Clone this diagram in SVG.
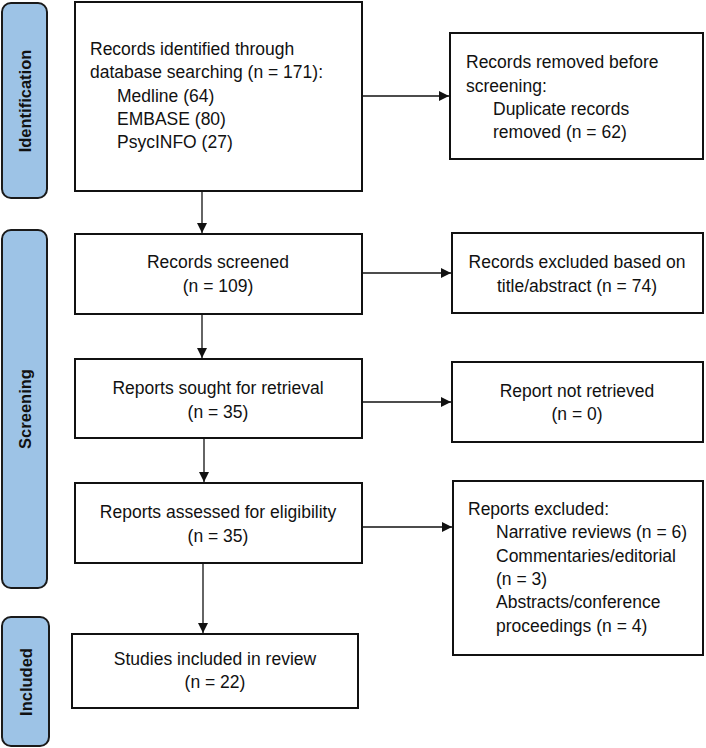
<svg xmlns="http://www.w3.org/2000/svg" width="706" height="748" viewBox="0 0 706 748">
<style>
.box{fill:#fff;stroke:#111;stroke-width:2}
.side{fill:#9dc3e6;stroke:#1a1a1a;stroke-width:2}
.t{font-family:"Liberation Sans",Arial,sans-serif;font-size:17.5px;fill:#111}
.c{text-anchor:middle}
.lab{font-family:"Liberation Sans",Arial,sans-serif;font-size:16.5px;font-weight:bold;fill:#111;text-anchor:middle}
.ln{stroke:#111;stroke-width:1.3;fill:none;marker-end:url(#ah)}
</style>
<defs>
<marker id="ah" viewBox="0 0 10 10" refX="10" refY="5" markerWidth="11" markerHeight="10" markerUnits="userSpaceOnUse" orient="auto">
<path d="M0,0 L10,5 L0,10 Z" fill="#111"/>
</marker>
</defs>
<g id="side-identification"><rect class="side" x="2" y="3" width="45" height="195" rx="9"/><text class="lab" transform="translate(30.5,101) rotate(-90)">Identification</text></g>
<g id="side-screening"><rect class="side" x="2" y="230" width="45" height="358" rx="9"/><text class="lab" transform="translate(30.5,409) rotate(-90)">Screening</text></g>
<g id="side-included"><rect class="side" x="2" y="617" width="47" height="129" rx="9"/><text class="lab" transform="translate(31.5,682) rotate(-90)">Included</text></g>

<g id="identified"><rect class="box" x="75" y="2" width="287" height="189"/>
<text class="t" x="90" y="55">Records identified through</text>
<text class="t" x="90" y="78">database searching (n = 171):</text>
<text class="t" x="117" y="102">Medline (64)</text>
<text class="t" x="117" y="125">EMBASE (80)</text>
<text class="t" x="117" y="148">PsycINFO (27)</text></g>

<g id="removed"><rect class="box" x="450" y="33" width="253" height="126"/>
<text class="t" x="466" y="68">Records removed before</text>
<text class="t" x="466" y="92">screening:</text>
<text class="t" x="493" y="115">Duplicate records</text>
<text class="t" x="493" y="138">removed (n = 62)</text></g>

<g id="screened"><rect class="box" x="75" y="234" width="287" height="80"/>
<text class="t c" x="218" y="268">Records screened</text>
<text class="t c" x="218" y="292">(n = 109)</text></g>

<g id="excluded-title"><rect class="box" x="452" y="233" width="251" height="80"/>
<text class="t c" x="577" y="268">Records excluded based on</text>
<text class="t c" x="577" y="292">title/abstract (n = 74)</text></g>

<g id="sought"><rect class="box" x="75" y="359" width="287" height="79"/>
<text class="t c" x="218" y="394">Reports sought for retrieval</text>
<text class="t c" x="218" y="418">(n = 35)</text></g>

<g id="not-retrieved"><rect class="box" x="452" y="362" width="251" height="80"/>
<text class="t c" x="577" y="397">Report not retrieved</text>
<text class="t c" x="577" y="420">(n = 0)</text></g>

<g id="assessed"><rect class="box" x="75" y="483" width="287" height="80"/>
<text class="t c" x="218" y="518">Reports assessed for eligibility</text>
<text class="t c" x="218" y="542">(n = 35)</text></g>

<g id="reports-excluded"><rect class="box" x="453" y="481" width="250" height="174"/>
<text class="t" x="468" y="515">Reports excluded:</text>
<text class="t" x="496" y="538">Narrative reviews (n = 6)</text>
<text class="t" x="496" y="562">Commentaries/editorial</text>
<text class="t" x="496" y="585">(n = 3)</text>
<text class="t" x="496" y="608">Abstracts/conference</text>
<text class="t" x="496" y="632">proceedings (n = 4)</text></g>

<g id="included"><rect class="box" x="72" y="634" width="286" height="74"/>
<text class="t c" x="215" y="665">Studies included in review</text>
<text class="t c" x="215" y="688">(n = 22)</text></g>

<g id="connectors">
<line class="ln" x1="202" y1="191" x2="202" y2="233"/>
<line class="ln" x1="202" y1="314" x2="202" y2="358"/>
<line class="ln" x1="204" y1="438" x2="204" y2="482"/>
<line class="ln" x1="203" y1="563" x2="203" y2="633"/>
<line class="ln" x1="362" y1="96" x2="449" y2="96"/>
<line class="ln" x1="362" y1="273" x2="451" y2="273"/>
<line class="ln" x1="362" y1="402" x2="451" y2="402"/>
<line class="ln" x1="362" y1="527" x2="452" y2="527"/>
</g>
</svg>
